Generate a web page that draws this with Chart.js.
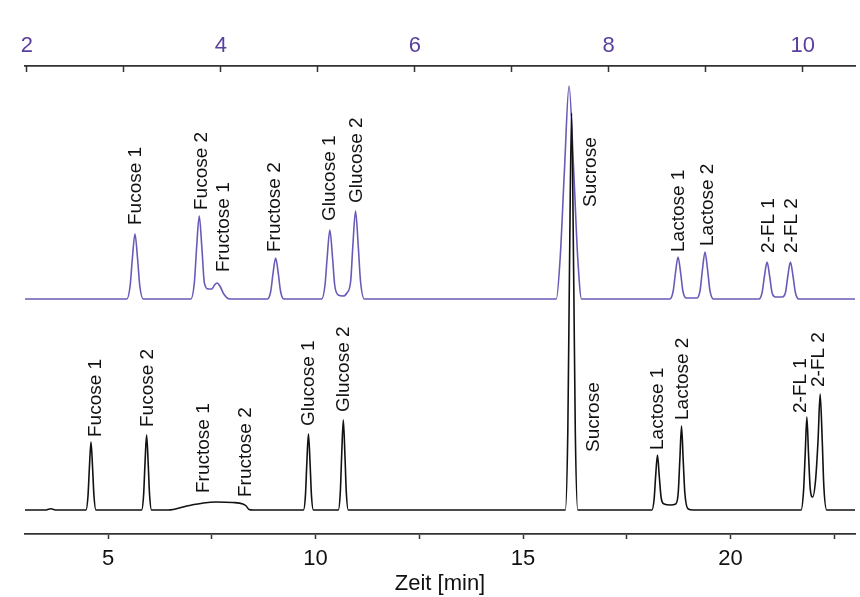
<!DOCTYPE html>
<html>
<head>
<meta charset="utf-8">
<script src="https://cdn.jsdelivr.net/npm/chart.js@4/dist/chart.umd.min.js"></script>
<style>
  html, body { margin: 0; padding: 0; background: #ffffff; }
  #wrap { width: 860px; height: 597px; }
</style>
</head>
<body>
<div id="wrap"><canvas id="c" width="860" height="597"></canvas></div>
<script>
// ---------- data ----------
// lower (black) chromatogram, bottom time axis [min]
const blackTime = [3.0, 3.48, 3.62, 3.76,
  4.47, 4.518, 4.55, 4.59, 4.63, 4.662, 4.71,
  5.81, 5.858, 5.89, 5.93, 5.97, 6.002, 6.05,
  6.45, 6.9, 7.3, 7.6, 8.0, 8.25, 8.33, 8.40, 8.5,
  9.71, 9.758, 9.79, 9.83, 9.87, 9.902, 9.95,
  10.55, 10.598, 10.63, 10.67, 10.71, 10.742, 10.79,
  16.02, 16.08, 16.12, 16.17, 16.22, 16.26, 16.32,
  18.105, 18.16, 18.195, 18.24, 18.285, 18.33, 18.4, 18.55, 18.68, 18.74, 18.78, 18.82, 18.86, 18.9, 18.98, 19.1,
  21.70, 21.76, 21.80, 21.84, 21.88, 21.92, 21.98, 22.05, 22.11, 22.16, 22.21, 22.25, 22.32, 23.0];
const blackSignal = [0, 0, 1.2, 0,
  0, 14, 41, 68, 41, 14, 0,
  0, 15, 45, 75, 45, 15, 0,
  0, 4, 7, 8, 7.5, 6, 4, 0.5, 0,
  0, 15, 46, 76, 46, 15, 0,
  0, 18, 54, 90, 54, 18, 0,
  0, 79, 240, 397, 240, 79, 0,
  0, 11, 33, 55, 33, 12, 6, 5, 6, 17, 51, 84, 50, 17, 1, 0,
  0, 19, 56, 93, 56, 22, 13, 30, 70, 116, 70, 23, 0, 0];

// upper (purple) chromatogram, top time axis
const purpleTime = [1.98, 3.03, 3.064, 3.086, 3.114, 3.142, 3.164, 3.20,
  3.69, 3.727, 3.749, 3.777, 3.805, 3.83, 3.87, 3.905, 3.935, 3.96, 3.99, 4.03, 4.09,
  4.48, 4.515, 4.537, 4.565, 4.593, 4.615, 4.65,
  5.04, 5.074, 5.096, 5.124, 5.152, 5.174, 5.21, 5.26, 5.30, 5.339, 5.361, 5.389, 5.417, 5.44, 5.48,
  7.46, 7.50, 7.543, 7.591, 7.639, 7.68, 7.72,
  8.63, 8.665, 8.687, 8.715, 8.743, 8.765, 8.80, 8.85, 8.91, 8.943, 8.965, 8.993, 9.021, 9.043, 9.08,
  9.55, 9.583, 9.605, 9.633, 9.661, 9.683, 9.72, 9.75, 9.79, 9.824, 9.846, 9.874, 9.902, 9.924, 9.96, 10.54];
const purpleSignal = [0, 0, 13, 39, 65, 39, 13, 0,
  0, 17, 50, 83, 50, 16, 10, 10, 14, 16, 13, 5, 0,
  0, 8, 25, 41, 25, 8, 0,
  0, 14, 41, 69, 41, 14, 4, 3, 6, 18, 53, 88, 53, 18, 0,
  0, 42, 128, 213, 128, 42, 0,
  0, 8, 25, 42, 25, 8, 1, 1, 1, 9, 28, 47, 28, 9, 0,
  0, 7, 22, 37, 22, 7, 2, 2, 2, 7, 22, 37, 22, 7, 0, 0];

// peak labels
const peakNames = ['Fucose 1', 'Fucose 2', 'Fructose 1', 'Fructose 2', 'Glucose 1', 'Glucose 2',
  'Sucrose', 'Lactose 1', 'Lactose 2', '2-FL 1', '2-FL 2'];
const blackLabelTime  = [4.70, 5.95, 7.31, 8.32, 9.84, 10.69, 16.71, 18.24, 18.84, 21.69, 22.13];
const blackLabelLevel = [73, 83, 17, 13, 84, 98, 58, 60, 90, 97, 123];
const purpleLabelTime  = [3.12, 3.80, 4.03, 4.56, 5.12, 5.40, 7.82, 8.72, 9.02, 9.65, 9.89];
const purpleLabelLevel = [74, 89, 27, 47, 78, 96, 92, 47, 53, 46, 46];

// axis ticks
const bottomTicks = [5, 7.5, 10, 12.5, 15, 17.5, 20, 22.5];
const topTicks = [2, 3, 4, 5, 6, 7, 8, 9, 10];
const axisTitle = 'Zeit [min]';

// ---------- styles ----------
const FONT = '"Liberation Sans", Arial, Helvetica, sans-serif';
const PURPLE_LINE = '#6a5ab8';
const PURPLE_TEXT = '#5a3f9e';
const BLACK = '#111111';
const AXIS = '#333333';

const blackData = blackTime.map((t, i) => ({ x: t, y: blackSignal[i] }));
const purpleData = purpleTime.map((t, i) => ({ x: t, y: purpleSignal[i] }));

const peakLabelPlugin = {
  id: 'peakLabels',
  afterDatasetsDraw(chart) {
    const ctx = chart.ctx;
    const draw = (xs, ys, times, levels) => {
      peakNames.forEach((name, i) => {
        const px = xs.getPixelForValue(times[i]);
        const py = ys.getPixelForValue(levels[i]);
        ctx.save();
        ctx.translate(px, py);
        ctx.rotate(-Math.PI / 2);
        ctx.font = '19px ' + FONT;
        ctx.fillStyle = BLACK;
        ctx.textAlign = 'left';
        ctx.textBaseline = 'middle';
        ctx.fillText(name, 0, 0);
        ctx.restore();
      });
    };
    draw(chart.scales.x, chart.scales.y, blackLabelTime, blackLabelLevel);
    draw(chart.scales.xTop, chart.scales.yTop, purpleLabelTime, purpleLabelLevel);
  }
};

new Chart(document.getElementById('c'), {
  type: 'line',
  data: {
    datasets: [
      {
        label: 'unten',
        data: blackData,
        xAxisID: 'x', yAxisID: 'y',
        borderColor: BLACK, borderWidth: 1.6,
        pointRadius: 0, fill: false,
        cubicInterpolationMode: 'monotone'
      },
      {
        label: 'oben',
        data: purpleData,
        xAxisID: 'xTop', yAxisID: 'yTop',
        borderColor: PURPLE_LINE, borderWidth: 1.6,
        pointRadius: 0, fill: false,
        cubicInterpolationMode: 'monotone'
      }
    ]
  },
  options: {
    responsive: false,
    animation: false,
    devicePixelRatio: 1,
    layout: { padding: { left: 25, right: 5, top: 0, bottom: 0 } },
    plugins: { legend: { display: false }, tooltip: { enabled: false } },
    scales: {
      x: {
        type: 'linear', position: 'bottom', min: 3, max: 23,
        afterBuildTicks: (s) => { s.ticks = bottomTicks.map(v => ({ value: v })); },
        afterFit: (s) => { s.height = 63; },
        ticks: {
          color: BLACK, font: { family: FONT, size: 22 }, padding: 7, maxRotation: 0,
          callback: (v) => (v % 5 === 0 ? String(v) : '')
        },
        grid: { drawOnChartArea: false, drawTicks: true, tickLength: 5, tickColor: AXIS, tickWidth: 1.5 },
        border: { display: true, color: AXIS, width: 1.8 },
        title: { display: true, text: axisTitle, color: BLACK, font: { family: FONT, size: 22 }, padding: { top: 0, bottom: 0 } }
      },
      xTop: {
        type: 'linear', position: 'top', min: 1.98, max: 10.54,
        afterBuildTicks: (s) => { s.ticks = topTicks.map(v => ({ value: v })); },
        afterFit: (s) => { s.height = 66; },
        ticks: {
          color: PURPLE_TEXT, font: { family: FONT, size: 22 }, padding: 13, maxRotation: 0,
          callback: (v) => (v % 2 === 0 ? String(v) : '')
        },
        grid: { drawOnChartArea: false, drawTicks: true, tickLength: -6, tickColor: AXIS, tickWidth: 1.5 },
        border: { display: true, color: AXIS, width: 1.8 }
      },
      y: { display: false, min: -24, max: 444 },
      yTop: { display: false, min: -235, max: 233 }
    }
  },
  plugins: [peakLabelPlugin]
});
</script>
</body>
</html>
